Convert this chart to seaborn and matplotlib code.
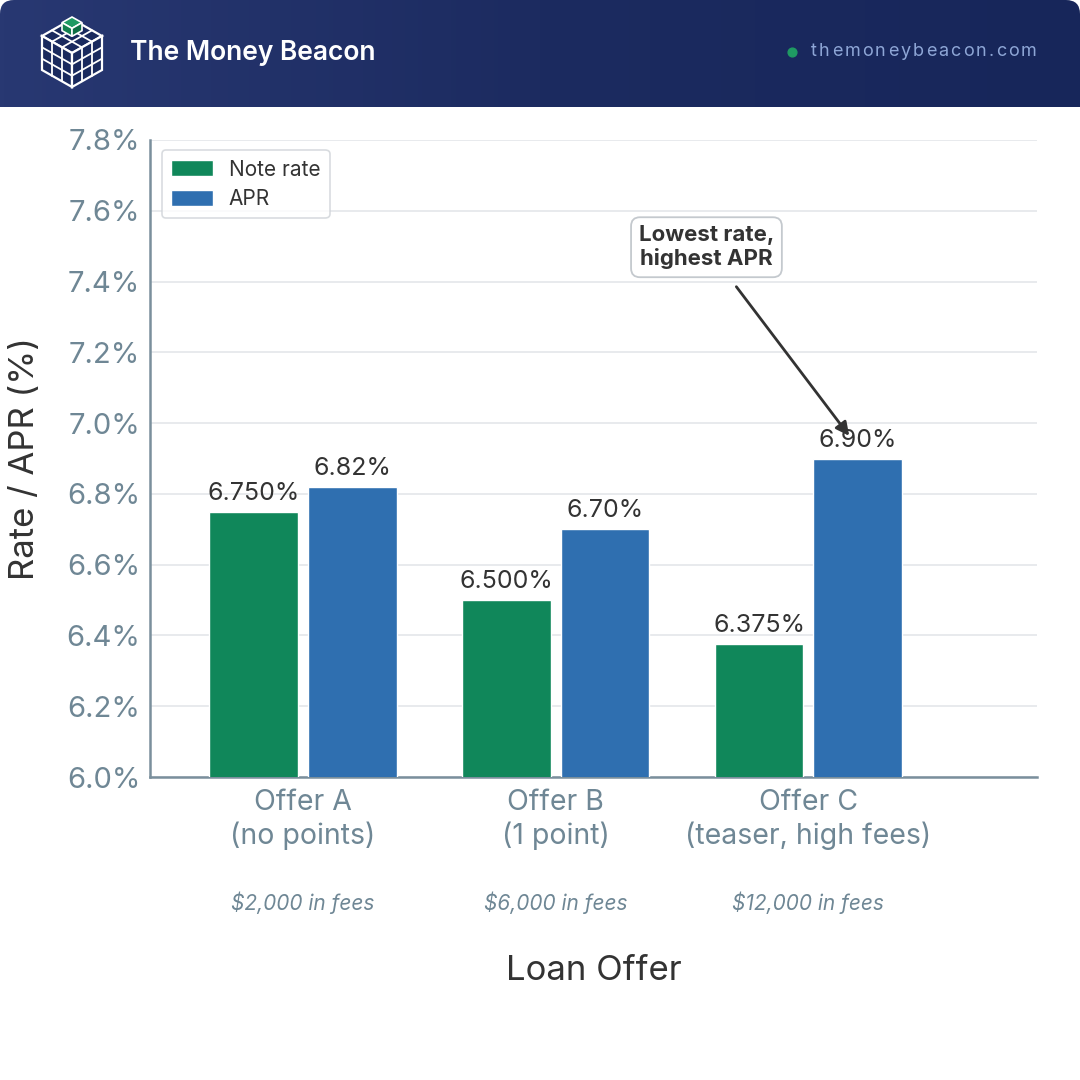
import numpy as np
import pandas as pd
import seaborn as sns
import matplotlib.pyplot as plt
from matplotlib.patches import FancyBboxPatch, Polygon
from matplotlib.colors import LinearSegmentedColormap
from matplotlib.transforms import blended_transform_factory

# data
offers = ['Offer A\n(no points)', 'Offer B\n(1 point)', 'Offer C\n(teaser, high fees)']
fees = ['$2,000 in fees', '$6,000 in fees', '$12,000 in fees']
note_rate = [6.750, 6.500, 6.375]
apr = [6.82, 6.70, 6.90]
yticks = [6.0, 6.2, 6.4, 6.6, 6.8, 7.0, 7.2, 7.4, 7.6, 7.8]

GREEN = '#10875a'
BLUE = '#2f6fb0'
SLATE = '#6f8795'
DARK = '#333333'
NAVY = '#1a2a5e'

sns.set_style('white')
plt.rcParams['font.family'] = ['Inter', 'DejaVu Sans']

df = pd.DataFrame({
    'offer': offers * 2,
    'value': note_rate + apr,
    'series': ['Note rate'] * 3 + ['APR'] * 3,
})

fig = plt.figure(figsize=(10.8, 10.8), dpi=100)
fig.patch.set_facecolor('white')

# header band with gradient
hax = fig.add_axes([0, 1 - 107 / 1080, 1, 107 / 1080])
hax.set_xlim(0, 1080)
hax.set_ylim(107, 0)
hax.axis('off')
grad = np.linspace(0, 1, 256)[None, :]
cmap = LinearSegmentedColormap.from_list('hdr', ['#283872', '#1c2b60', '#17265a'])
im = hax.imshow(grad, cmap=cmap, extent=[0, 1080, 107, 0], aspect='auto')
clip = FancyBboxPatch((0, 0), 1080, 140, boxstyle='round,pad=0,rounding_size=14',
                      transform=hax.transData, facecolor='none', edgecolor='none')
hax.add_patch(clip)
im.set_clip_path(clip)

# logo: isometric cube grid
T = np.array([72, 19.0]); L = np.array([42, 36.0]); R = np.array([102, 36.0])
C = np.array([72, 53.0]); BL = np.array([42, 70.0]); BR = np.array([102, 70.0]); B = np.array([72, 87.0])
for face in ([T, R, C, L], [L, C, B, BL], [C, R, BR, B]):
    hax.add_patch(Polygon(face, closed=True, facecolor=NAVY, edgecolor='white', lw=1.6, zorder=3))
    a, b, c, d = face
    for i in (1, 2):
        p = a + (d - a) * i / 3
        hax.plot([p[0], p[0] + (b - a)[0]], [p[1], p[1] + (b - a)[1]], color='white', lw=1.3, zorder=4)
        q = a + (b - a) * i / 3
        hax.plot([q[0], q[0] + (d - a)[0]], [q[1], q[1] + (d - a)[1]], color='white', lw=1.3, zorder=4)
# green top cube
gc = np.array([T, T + (R - T) / 3, T + (R - T) / 3 + (L - T) / 3, T + (L - T) / 3]) + np.array([0, -2])
lower = gc + np.array([0, 8])
hax.add_patch(Polygon(gc, closed=True, facecolor='#1f9a63', edgecolor='white', lw=1.2, zorder=5))
hax.add_patch(Polygon([gc[3], gc[2], lower[2], lower[3]], closed=True, facecolor='#13804f', edgecolor='white', lw=1.2, zorder=5))
hax.add_patch(Polygon([gc[2], gc[1], lower[1], lower[2]], closed=True, facecolor='#0f6e44', edgecolor='white', lw=1.2, zorder=5))

hax.text(130, 53, 'The Money Beacon', color='white', fontsize=19, fontweight='semibold',
         va='center', ha='left')
hax.scatter([792], [52], s=40, color='#1f9a63', zorder=5)

# url with letter spacing, placed char by char
url = 'themoneybeacon.com'
renderer = fig.canvas.get_renderer()
xpos = 811.0
for ch in url:
    t = hax.text(xpos, 52, ch, color='#8ea6d6', fontsize=13, va='center', ha='left')
    xpos += t.get_window_extent(renderer).width + 2.1

# main chart
ax = fig.add_axes([150 / 1080, 1 - 777 / 1080, 887 / 1080, 637 / 1080])
sns.barplot(data=df, x='offer', y='value', hue='series', hue_order=['Note rate', 'APR'],
            palette=[GREEN, BLUE], saturation=1, width=0.78, gap=0.1, ax=ax, zorder=3)

ax.set_ylim(6.0, 7.8)
ax.set_xlim(-0.605, 2.905)
ax.set_yticks(yticks)
ax.set_yticklabels([f'{v:.1f}%' for v in yticks])
ax.yaxis.grid(True, color='#e4e6ea', lw=1.2, zorder=0)
ax.set_axisbelow(True)
for s in ['top', 'right']:
    ax.spines[s].set_visible(False)
for s in ['left', 'bottom']:
    ax.spines[s].set_color('#7a8f9c')
    ax.spines[s].set_linewidth(1.8)
ax.tick_params(axis='y', length=0, labelsize=21, colors=SLATE, pad=7)
ax.tick_params(axis='x', length=0, labelsize=20.5, colors=SLATE, pad=9)
ax.set_ylabel('Rate / APR (%)', fontsize=25, color=DARK, labelpad=18)
ax.set_xlabel('Loan Offer', fontsize=25, color=DARK, labelpad=76)

# value labels
fmts = ['%.3f%%', '%.2f%%']
for cont, fmt in zip(ax.containers, fmts):
    ax.bar_label(cont, fmt=fmt, padding=5, fontsize=18, color=DARK)

# fees under tick labels
tr = blended_transform_factory(ax.transData, ax.transAxes)
for i, f in enumerate(fees):
    ax.text(i, -0.198, f, transform=tr, ha='center', va='center', fontsize=15,
            style='italic', color=SLATE)

# legend
leg = ax.legend(loc='upper left', bbox_to_anchor=(0.0135, 0.984), borderaxespad=0,
                fontsize=15, frameon=True, handlelength=2.0, handleheight=0.8,
                borderpad=0.45, labelspacing=0.45, handletextpad=0.75,
                title=None, fancybox=True)
leg.get_frame().set_edgecolor('#cfd3d8')
leg.get_frame().set_linewidth(1.2)
for t in leg.get_texts():
    t.set_color(DARK)

# annotation
ax.annotate('Lowest rate,\nhighest APR', xy=(2.162, 6.964), xytext=(1.597, 7.497),
            ha='center', va='center', fontsize=16, fontweight='bold', color=DARK,
            bbox=dict(boxstyle='round,pad=0.35,rounding_size=0.4', fc='white', ec='#c4c9ce', lw=1.3),
            arrowprops=dict(arrowstyle='-|>,head_length=0.5,head_width=0.25', color=DARK, lw=2,
                            shrinkA=8, shrinkB=0),
            zorder=6)

fig.savefig('out.png', dpi=100)
